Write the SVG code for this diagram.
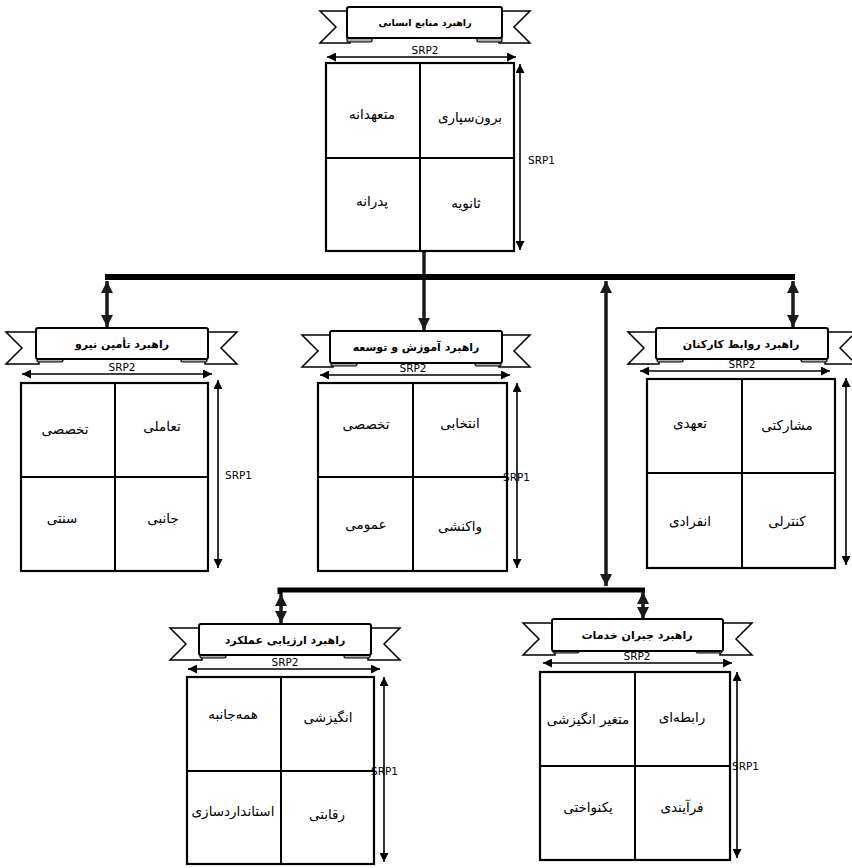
<svg xmlns="http://www.w3.org/2000/svg" width="852" height="868" viewBox="0 0 852 868">
<style>
.bg{fill:#fff}
.tail{fill:#fff;stroke:#000;stroke-width:1.5;stroke-linejoin:miter}
.fold{fill:#aaa;stroke:#000;stroke-width:1.2}
.ban{fill:#fff;stroke:#000;stroke-width:2}
.bt{font-family:"DejaVu Sans",sans-serif;font-size:11px;font-weight:bold;text-anchor:middle;direction:rtl}
.box{fill:#fff;stroke:#000;stroke-width:2.2}
.div{stroke:#000;stroke-width:2;fill:none}
.ct{font-family:"DejaVu Sans",sans-serif;font-size:13.5px;text-anchor:middle;direction:rtl}
.srp{stroke:#000;stroke-width:1.6;fill:none;marker-start:url(#sa);marker-end:url(#sa)}
.lab{font-family:"DejaVu Sans",sans-serif;font-size:10.5px}
.conn{stroke:#1a1a1a;stroke-width:3.5;fill:none}
.bus{stroke:#000;stroke-width:6;fill:none}
.dbl{marker-start:url(#ta);marker-end:url(#ta)}
.one{marker-end:url(#ta)}
</style>
<defs>
<marker id="sa" viewBox="0 0 10 10" refX="10" refY="5" markerWidth="11" markerHeight="9" markerUnits="userSpaceOnUse" orient="auto-start-reverse"><path d="M0,0 L10,5 L0,10 z" fill="#000"/></marker>
<marker id="ta" viewBox="0 0 10 10" refX="10" refY="5" markerWidth="13" markerHeight="12" markerUnits="userSpaceOnUse" orient="auto-start-reverse"><path d="M0,0 L10,5 L0,10 z" fill="#1a1a1a"/></marker>
</defs>
<rect class="bg" x="0" y="0" width="852" height="868"/>

<g id="connectors">
<line class="conn" x1="424" y1="251" x2="424" y2="277"/>
<line class="bus" x1="105" y1="277" x2="795" y2="277"/>
<line class="conn dbl" x1="107" y1="281" x2="107" y2="327"/>
<line class="conn one" x1="424" y1="280" x2="424" y2="330"/>
<line class="conn dbl" x1="606" y1="281" x2="606" y2="586"/>
<line class="conn dbl" x1="793" y1="281" x2="793" y2="327"/>
<polyline class="bus" points="645,590 280,590 280,594" style="stroke-width:5"/>
<line class="conn dbl" x1="281" y1="594" x2="281" y2="623"/>
<line class="conn dbl" x1="643" y1="592" x2="643" y2="619"/>
</g>

<g id="top">
<polygon class="tail" points="320,11 350,11 350,43 320,43 336,27"/>
<polygon class="tail" points="530,11 499,11 499,43 530,43 514,27"/>
<rect class="fold" x="347" y="34" width="25" height="8" rx="1.5"/>
<rect class="fold" x="477" y="34" width="25" height="8" rx="1.5"/>
<rect class="ban" x="347" y="7" width="155" height="31" rx="2"/>
<text class="bt" x="425" y="26" style="font-size:9.5px">راهبرد منابع انسانی</text>
<line class="srp" x1="327" y1="57" x2="516" y2="57"/>
<text class="lab" x="425" y="54" text-anchor="middle">SRP2</text>
<rect class="box" x="326" y="63" width="188" height="188"/>
<line class="div" x1="420" y1="63" x2="420" y2="251"/>
<line class="div" x1="326" y1="158" x2="514" y2="158"/>
<text class="ct" x="372" y="119">متعهدانه</text>
<text class="ct" x="470" y="122">برون‌سپاری</text>
<text class="ct" x="372" y="206">پدرانه</text>
<text class="ct" x="466" y="208">ثانویه</text>
<line class="srp" x1="520" y1="64" x2="520" y2="250"/>
<text class="lab" x="528" y="164">SRP1</text>
</g>

<g id="left">
<polygon class="tail" points="6,332 39,332 39,364 6,364 22,348"/>
<polygon class="tail" points="237,332 205,332 205,364 237,364 221,348"/>
<rect class="fold" x="37" y="355" width="26" height="7" rx="1.5"/>
<rect class="fold" x="181" y="355" width="26" height="7" rx="1.5"/>
<rect class="ban" x="36" y="328" width="172" height="31" rx="2"/>
<text class="bt" x="122" y="348">راهبرد تأمین نیرو</text>
<line class="srp" x1="22" y1="374" x2="212" y2="374"/>
<text class="lab" x="122" y="371" text-anchor="middle">SRP2</text>
<rect class="box" x="21" y="383" width="187" height="188"/>
<line class="div" x1="115" y1="383" x2="115" y2="571"/>
<line class="div" x1="21" y1="477" x2="208" y2="477"/>
<text class="ct" x="65" y="434">تخصصی</text>
<text class="ct" x="162" y="431">تعاملی</text>
<text class="ct" x="62" y="523">سنتی</text>
<text class="ct" x="163" y="523">جانبی</text>
<line class="srp" x1="218" y1="380" x2="218" y2="568"/>
<text class="lab" x="225" y="479">SRP1</text>
</g>

<g id="middle">
<polygon class="tail" points="302,335 333,335 333,367 302,367 318,351"/>
<polygon class="tail" points="530,335 499,335 499,367 530,367 514,351"/>
<rect class="fold" x="331" y="359" width="26" height="7" rx="1.5"/>
<rect class="fold" x="475" y="359" width="26" height="7" rx="1.5"/>
<rect class="ban" x="330" y="331" width="172" height="32" rx="2"/>
<text class="bt" x="416" y="351">راهبرد آموزش و توسعه</text>
<line class="srp" x1="320" y1="375" x2="510" y2="375"/>
<text class="lab" x="413" y="372" text-anchor="middle">SRP2</text>
<rect class="box" x="318" y="383" width="189" height="188"/>
<line class="div" x1="413" y1="383" x2="413" y2="571"/>
<line class="div" x1="318" y1="477" x2="507" y2="477"/>
<text class="ct" x="366" y="429">تخصصی</text>
<text class="ct" x="460" y="428">انتخابی</text>
<text class="ct" x="366" y="529">عمومی</text>
<text class="ct" x="460" y="531">واکنشی</text>
<line class="srp" x1="517" y1="383" x2="517" y2="568"/>
<text class="lab" x="503" y="481">SRP1</text>
</g>

<g id="right">
<polygon class="tail" points="628,332 659,332 659,364 628,364 644,348"/>
<polygon class="tail" points="856,332 825,332 825,364 856,364 840,348"/>
<rect class="fold" x="657" y="355" width="26" height="7" rx="1.5"/>
<rect class="fold" x="801" y="355" width="26" height="7" rx="1.5"/>
<rect class="ban" x="656" y="328" width="172" height="31" rx="2"/>
<text class="bt" x="741" y="348">راهبرد روابط کارکنان</text>
<line class="srp" x1="640" y1="371" x2="830" y2="371"/>
<text class="lab" x="742" y="368" text-anchor="middle">SRP2</text>
<rect class="box" x="647" y="379" width="188" height="189"/>
<line class="div" x1="742" y1="379" x2="742" y2="568"/>
<line class="div" x1="647" y1="473" x2="835" y2="473"/>
<text class="ct" x="690" y="428">تعهدی</text>
<text class="ct" x="787" y="430">مشارکتی</text>
<text class="ct" x="690" y="526">انفرادی</text>
<text class="ct" x="787" y="526">کنترلی</text>
<line class="srp" x1="846" y1="378" x2="846" y2="565"/>
</g>

<g id="bottom-left">
<polygon class="tail" points="170,628 202,628 202,660 170,660 186,644"/>
<polygon class="tail" points="400,628 368,628 368,660 400,660 384,644"/>
<rect class="fold" x="200" y="651" width="26" height="7" rx="1.5"/>
<rect class="fold" x="344" y="651" width="26" height="7" rx="1.5"/>
<rect class="ban" x="199" y="624" width="172" height="31" rx="2"/>
<text class="bt" x="285" y="644">راهبرد ارزیابی عملکرد</text>
<line class="srp" x1="188" y1="669" x2="380" y2="669"/>
<text class="lab" x="285" y="666" text-anchor="middle">SRP2</text>
<rect class="box" x="187" y="677" width="187" height="187"/>
<line class="div" x1="281" y1="677" x2="281" y2="864"/>
<line class="div" x1="187" y1="771" x2="374" y2="771"/>
<text class="ct" x="233" y="719">همه‌جانبه</text>
<text class="ct" x="328" y="722">انگیزشی</text>
<text class="ct" x="233" y="816">استانداردسازی</text>
<text class="ct" x="327" y="819">رقابتی</text>
<line class="srp" x1="384" y1="677" x2="384" y2="862"/>
<text class="lab" x="371" y="775">SRP1</text>
</g>

<g id="bottom-right">
<polygon class="tail" points="523,623 555,623 555,655 523,655 539,639"/>
<polygon class="tail" points="752,623 720,623 720,655 752,655 736,639"/>
<rect class="fold" x="553" y="646" width="26" height="7" rx="1.5"/>
<rect class="fold" x="696" y="646" width="26" height="7" rx="1.5"/>
<rect class="ban" x="552" y="619" width="171" height="32" rx="2"/>
<text class="bt" x="637" y="639">راهبرد جبران خدمات</text>
<line class="srp" x1="543" y1="663" x2="732" y2="663"/>
<text class="lab" x="637" y="660" text-anchor="middle">SRP2</text>
<rect class="box" x="540" y="672" width="190" height="188"/>
<line class="div" x1="635" y1="672" x2="635" y2="860"/>
<line class="div" x1="540" y1="766" x2="730" y2="766"/>
<text class="ct" x="588" y="724">متغیر انگیزشی</text>
<text class="ct" x="682" y="722">رابطه‌ای</text>
<text class="ct" x="588" y="812">یکنواختی</text>
<text class="ct" x="682" y="812">فرآیندی</text>
<line class="srp" x1="737" y1="672" x2="737" y2="858"/>
<text class="lab" x="732" y="770">SRP1</text>
</g>
</svg>
